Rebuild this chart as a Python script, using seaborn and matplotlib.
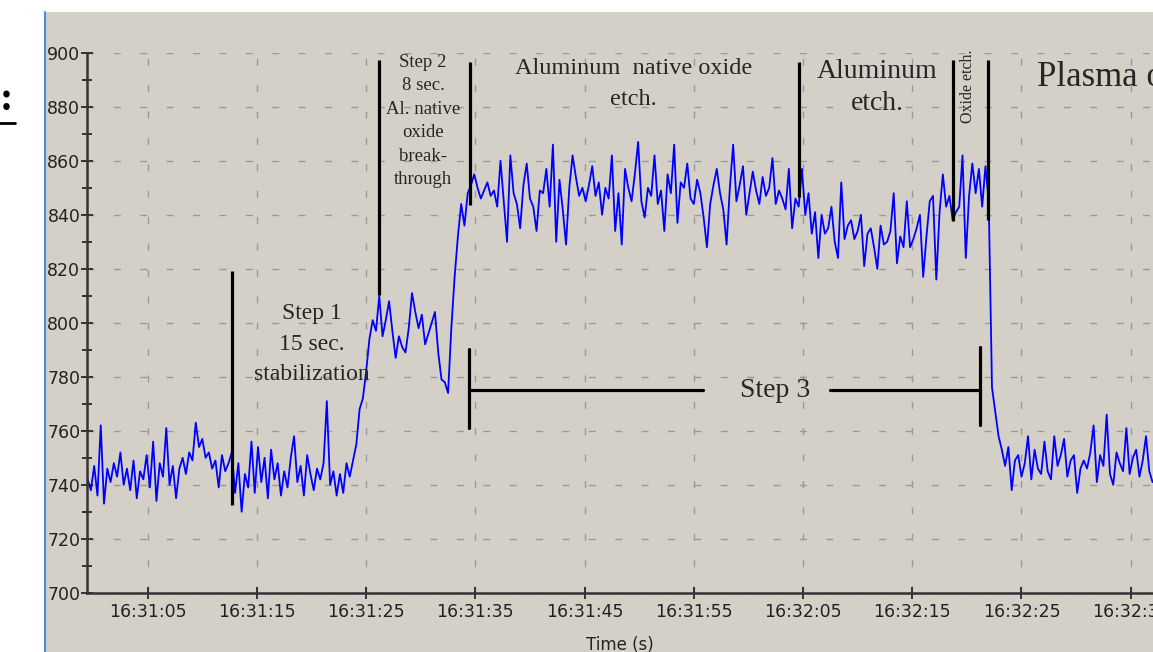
import numpy as np
import pandas as pd
import matplotlib
matplotlib.use("Agg")
import matplotlib.pyplot as plt
from matplotlib.patches import Rectangle
from matplotlib.lines import Line2D
import seaborn as sns

# ---------------- data ----------------
# sampling: first sample time (s after 16:31:00) and sample interval (s)
t_first = -0.5
t_step = 0.3

signal_baseline = [
    742, 738, 747, 736, 762, 733, 746, 741, 748, 743,
    752, 740, 746, 738, 749, 735, 745, 742, 751, 739,
    756, 734, 748, 743, 761, 740, 747, 735, 746, 750,
    744, 752, 749, 763, 754, 757, 750, 752, 746, 749,
    739, 751, 745, 748, 752, 737, 748, 730, 744, 739,
    756, 737, 754, 741, 750, 735, 753, 742, 748, 736,
    745, 739, 750, 758, 741, 747, 736, 751, 744, 738,
    746, 742, 748, 771, 740, 745, 736, 744, 737, 748,
    743,
]
signal_step2 = [
    749, 755, 768, 772, 782, 794, 801, 797, 810, 795,
    801, 808, 797, 787, 795, 791, 789, 798, 811, 804,
    798, 803, 792, 796, 800, 804, 789, 779, 778, 774,
    798, 817, 832, 844, 836, 848,
]
signal_oxide_etch = [
    851, 855, 850, 846, 849, 852, 847, 849, 843, 860,
    845, 830, 862, 848, 844, 835, 851, 859, 846, 843,
    834, 849, 848, 857, 843, 866, 830, 853, 842, 829,
    850, 862, 854, 847, 850, 845, 851, 858, 847, 852,
    840, 850, 846, 862, 834, 848, 829, 857, 850, 845,
    855, 867, 845, 839, 850, 847, 862, 844, 849, 834,
    855, 848, 866, 837, 852, 850, 859, 846, 844, 853,
    848, 839, 828, 844, 851, 857, 848, 842, 829, 850,
    866, 845, 851, 858, 840, 848, 856, 849, 844, 854,
    847, 850, 861, 844, 849, 846, 842, 857, 835, 846,
    843, 857, 840, 848, 833, 841, 824,
]
signal_al_etch = [
    840, 833, 835, 843, 830, 824, 852, 831, 836, 838,
    831, 834, 840, 821, 833, 835, 828, 820, 836, 829,
    830, 834, 848, 822, 832, 828, 845, 828, 831, 835,
    840, 817, 832, 845, 847, 816, 841, 855, 843, 847,
    838, 841, 843, 862, 824, 847, 859, 848, 857, 843,
    858, 845,
]
signal_plasma_off = [
    776, 767, 758, 753, 747, 754, 738, 749, 751, 743,
    748, 758, 742, 753, 746, 744, 756, 745, 742, 758,
    747, 751, 757, 743, 749, 751, 737, 746, 749, 746,
    752, 762, 741, 751, 747, 766, 744, 740, 752, 748,
    745, 761, 744, 750, 753, 743, 749, 758, 745, 741,
]

# x-axis ticks (seconds after 16:31:00) and their labels
tick_seconds = [5, 15, 25, 35, 45, 55, 65, 75, 85, 95]
tick_labels = ["16:31:05", "16:31:15", "16:31:25", "16:31:35", "16:31:45",
               "16:31:55", "16:32:05", "16:32:15", "16:32:25", "16:32:35"]

# vertical black marker lines: time, bottom value, top value
marker_t = [12.72, 26.18, 34.51, 64.62, 78.73, 81.93]
marker_lo = [732.5, 810.3, 843.6, 846.6, 837.7, 838.0]
marker_hi = [819.2, 897.3, 896.6, 896.6, 897.3, 897.3]

# Step 3 bracket
step3_t = [34.42, 55.85, 67.5, 81.2]
step3_level = 775
step3_tick_lo = [761.0, 762.0]
step3_tick_hi = [790.3, 791.0]

# ---------------- build table ----------------
values = (signal_baseline + signal_step2 + signal_oxide_etch
          + signal_al_etch + signal_plasma_off)
times = t_first + t_step * np.arange(len(values))
df = pd.DataFrame({"t": times, "v": values})

# ---------------- figure ----------------
sns.set_style("ticks")
plt.rcParams["font.family"] = ["DejaVu Sans"]

W, H = 1153, 652
BG = "#d4d0c8"
fig = plt.figure(figsize=(W / 100, H / 100), dpi=100)
fig.patch.set_facecolor("white")

fig.patches.append(Rectangle((46 / W, 0), 1 - 46 / W, (H - 12) / H,
                             transform=fig.transFigure, facecolor=BG,
                             edgecolor="none", zorder=-5))
fig.lines.append(Line2D([45 / W, 45 / W], [0, (H - 12) / H],
                        transform=fig.transFigure, color="#4a8fd6", lw=1.5,
                        zorder=-4))
# fragment of text cut off at the left border
fig.text(0 / W, 1 - 101 / H, ":", fontsize=29, fontweight="bold",
         family="Liberation Serif", ha="left", va="center", color="black")
fig.lines.append(Line2D([0, 15 / W], [1 - 123 / H, 1 - 123 / H],
                        transform=fig.transFigure, color="black", lw=2))

ax = fig.add_axes([87.3 / W, (H - 592.8) / H, 1 - 87.3 / W, (592.8 - 52.8) / H])
ax.set_zorder(1)
ax.set_facecolor(BG)

sns.lineplot(data=df, x="t", y="v", ax=ax, color="#0000ff", linewidth=1.3,
             zorder=2)

ax.set_xlim(-0.53, 97.04)
ax.set_ylim(700, 900)
ax.set_xticks(tick_seconds)
ax.set_xticklabels(tick_labels)
ax.set_yticks(np.arange(700, 901, 20))
ax.set_yticks(np.arange(710, 900, 20), minor=True)

ax.grid(True, which="major", color="#9a9a9a",
        linestyle=(0, (5, 14)), linewidth=1.0, zorder=1)

for s in ["top", "right"]:
    ax.spines[s].set_visible(False)
for s in ["left", "bottom"]:
    ax.spines[s].set_color("#333333")
    ax.spines[s].set_linewidth(1.8)

ax.tick_params(axis="both", which="major", direction="inout", length=8,
               width=1.4, color="#333333", labelcolor="#222222")
ax.tick_params(axis="y", which="minor", direction="inout", length=7,
               width=1.4, color="#333333")
ax.tick_params(axis="x", labelsize=12.5, pad=3)
ax.tick_params(axis="y", labelsize=12.5, pad=1)

ax.set_xlabel("Time (s)", fontsize=12, color="#222222", labelpad=11)
ax.set_ylabel("")

# annotation lines
for t, lo, hi in zip(marker_t, marker_lo, marker_hi):
    ax.plot([t, t], [lo, hi], color="black", lw=2.3, zorder=4,
            solid_capstyle="butt")
ax.plot([step3_t[0], step3_t[1]], [step3_level, step3_level], color="black",
        lw=2.3, zorder=4)
ax.plot([step3_t[2], step3_t[3]], [step3_level, step3_level], color="black",
        lw=2.3, zorder=4)
ax.plot([step3_t[0], step3_t[0]], [step3_tick_lo[0], step3_tick_hi[0]],
        color="black", lw=2.3, zorder=4)
ax.plot([step3_t[3], step3_t[3]], [step3_tick_lo[1], step3_tick_hi[1]],
        color="black", lw=2.3, zorder=4)

serif = "Liberation Serif"
ax.text(20.05, 792.0, "Step 1\n15 sec.\nstabilization", family=serif,
        fontsize=17, ha="center", va="center", linespacing=1.6, zorder=5)
ax.text(30.2, 874.8, "Step 2\n8 sec.\nAl. native\noxide\nbreak-\nthrough",
        family=serif, fontsize=13.5, ha="center", va="center",
        linespacing=1.5, zorder=5)
ax.text(49.45, 888.3, "Aluminum  native oxide\netch.", family=serif,
        fontsize=17.5, ha="center", va="center", linespacing=1.62, zorder=5)
ax.text(71.8, 887.1, "Aluminum\netch.", family=serif, fontsize=20,
        ha="center", va="center", linespacing=1.4, zorder=5)
ax.text(80.1, 887.5, "Oxide etch.", family=serif, fontsize=11.5,
        rotation=90, ha="center", va="center", zorder=5)
ax.text(86.4, 891.0, "Plasma off", family=serif, fontsize=25,
        ha="left", va="center", zorder=5, clip_on=False)
ax.text(62.45, 775, "Step 3", family=serif, fontsize=20, ha="center",
        va="center", zorder=5)

fig.savefig("out.png", dpi=100, facecolor=fig.get_facecolor())
